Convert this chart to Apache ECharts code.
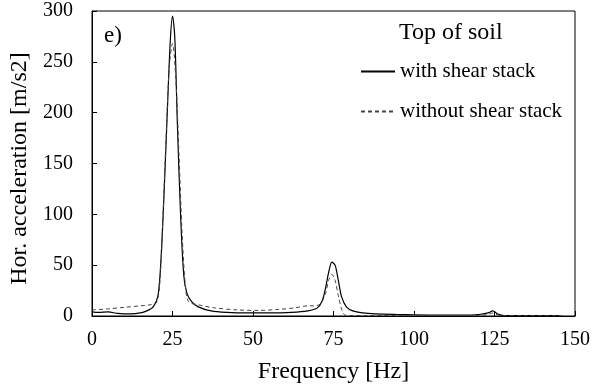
<!DOCTYPE html>
<html><head><meta charset="utf-8">
<script src="https://cdn.jsdelivr.net/npm/echarts@6/dist/echarts.min.js"></script>
<style>html,body{margin:0;padding:0;background:#fff}#c{width:593px;height:389px}</style>
</head><body><div id="c"></div>
<script>
var xTicks = [0, 25, 50, 75, 100, 125, 150];
var yTicks = [0, 50, 100, 150, 200, 250, 300];
var seriesNames = ['with shear stack', 'without shear stack'];
var freqWith = [0,2,5,8,12,15,17,19,20.5,21.5,22.5,23.5,24.3,25,25.7,26.5,27.5,28.5,29.5,31,33,37,42,48,55,62,67,70,71.5,72.5,73.5,74.5,75.5,76.5,77.5,79,81,84,88,95,105,115,120,123,124.5,126,128,135,145];
var accWith  = [4,3.5,4,2.5,2,3,5,9,20,60,130,210,270,295,275,190,100,40,22,14,9,5,3.5,3,3,3.5,5,8,15,27,43,53,50,35,19,9,5,3,2,1.5,1,1,1.5,3,5,2,0.5,0.3,0.3];
var freqWithout = [0,5,10,15,18,20,21,22,23,24,25,26,27,28,29,30,33,38,45,52,58,63,67,69,71,72.5,73.5,74.5,75.5,76.5,77.5,78.5,80,85,95,110,120,123,124.5,126,128,135,146];
var accWithout  = [6,7,8.5,10,11,13,30,95,175,245,268,235,160,80,30,14,11,8,6,5.5,6.5,8,10,10,12,22,35,41,35,20,7,1,0.5,0.5,0.5,0.5,0.5,1.5,3,1,0.3,0.3,0.3];

function pairs(f, v) { return f.map(function (x, i) { return [x, v[i]]; }); }
var font = 'Liberation Serif';
var chart = echarts.init(document.getElementById('c'));
chart.setOption({
  animation: false,
  backgroundColor: '#fff',
  grid: { left: 92, right: 16, top: 11, bottom: 71, show: true, borderColor: '#000', borderWidth: 1 },
  xAxis: {
    type: 'value', min: xTicks[0], max: xTicks[xTicks.length - 1], interval: 25,
    name: 'Frequency [Hz]', nameLocation: 'middle', nameGap: 44,
    nameTextStyle: { fontFamily: font, fontSize: 24, color: '#000' },
    axisLine: { lineStyle: { color: '#000' } },
    axisTick: { inside: true, length: 5, lineStyle: { color: '#000' } },
    axisLabel: { fontFamily: font, fontSize: 20, color: '#000', margin: 14 },
    splitLine: { show: false }
  },
  yAxis: {
    type: 'value', min: yTicks[0], max: yTicks[yTicks.length - 1], interval: 50,
    name: 'Hor. acceleration [m/s2]', nameLocation: 'middle', nameGap: 58,
    nameTextStyle: { fontFamily: font, fontSize: 24, color: '#000', padding: [0, 10, 0, 0] },
    axisLine: { lineStyle: { color: '#000' } },
    axisTick: { inside: true, length: 5, lineStyle: { color: '#000' } },
    axisLabel: { fontFamily: font, fontSize: 20, color: '#000', margin: 19 },
    splitLine: { show: false }
  },
  legend: {
    orient: 'vertical', left: 360, top: 61, padding: 0, itemGap: 19, itemWidth: 34, itemHeight: 14,
    itemStyle: { opacity: 0, borderWidth: 0 },
    textStyle: { fontFamily: font, fontSize: 21, color: '#000' },
    data: seriesNames
  },
  graphic: [
    { type: 'text', left: 399, top: 21, style: { text: 'Top of soil', fontFamily: font, fontSize: 24, fill: '#000' } },
    { type: 'text', left: 104, top: 24, style: { text: 'e)', fontFamily: font, fontSize: 23, fill: '#000' } }
  ],
  series: [
    { name: seriesNames[0], type: 'line', smooth: 0.3, symbol: 'none', data: pairs(freqWith, accWith),
      lineStyle: { color: '#000', width: 1.2, type: 'solid' }, itemStyle: { color: '#000' } },
    { name: seriesNames[1], type: 'line', smooth: 0.3, symbol: 'none', data: pairs(freqWithout, accWithout),
      lineStyle: { color: '#444', width: 1, type: [4, 3] }, itemStyle: { color: '#444' } }
  ]
});
</script></body></html>
